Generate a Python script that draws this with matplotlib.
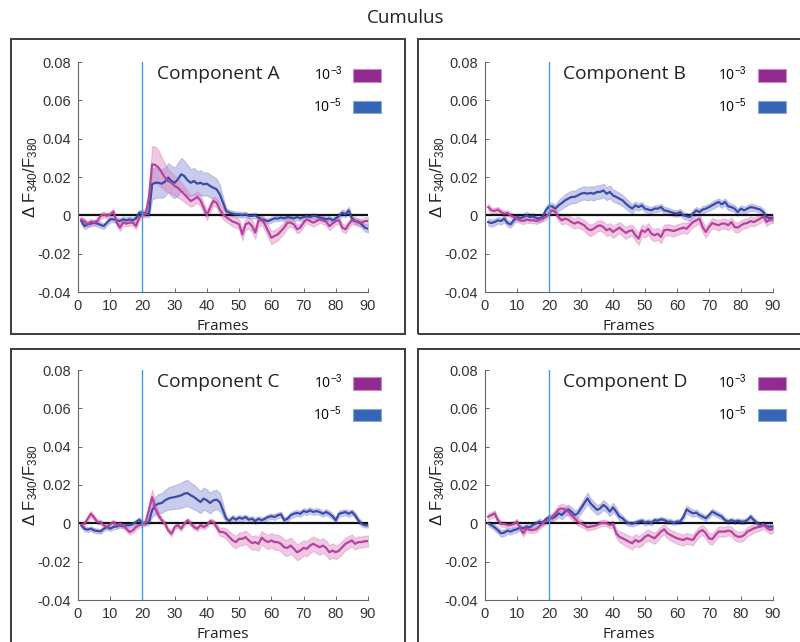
import numpy as np
import matplotlib
matplotlib.use("Agg")
import matplotlib.pyplot as plt
from matplotlib.patches import Patch, Rectangle

plt.rcParams["mathtext.fontset"] = "custom"
plt.rcParams["mathtext.rm"] = "Liberation Sans"
plt.rcParams["mathtext.it"] = "Liberation Sans:italic"
plt.rcParams["mathtext.bf"] = "Liberation Sans:bold"

# ---------------- data (values in units of 1e-3) ----------------
frames = np.arange(1, 91)

panel_names = ["Component A", "Component B", "Component C", "Component D"]
series_labels = ["10$^{-3}$", "10$^{-5}$"]
xticks = [0, 10, 20, 30, 40, 50, 60, 70, 80, 90]
yticks = [-0.04, -0.02, 0, 0.02, 0.04, 0.06, 0.08]
ytick_labels = ["-0.04", "-0.02", "0", "0.02", "0.04", "0.06", "0.08"]
stim_frame = 20

A_hi_mean = [-2.1,-3.0,-4.7,-3.3,-3.8,-3.0,-0.3,0.5,-0.3,0.5,
             1.9,-3.8,-6.4,-3.8,-4.3,-3.8,-3.8,-5.6,-1.2,0.2,
             0.5,9.2,26.6,26.3,24.9,22.3,19.7,17.9,17.0,15.3,
             14.4,12.7,11.0,9.2,7.5,8.4,9.6,7.8,4.0,0.0,
             4.0,7.5,6.6,3.1,0.5,-0.9,-2.1,-3.3,-3.8,-4.7,
             -9.9,-4.7,-3.8,-5.6,-9.0,-3.0,-2.1,-4.7,-8.2,-11.7,
             -10.8,-9.9,-8.2,-6.4,-3.8,-3.8,-4.7,-7.3,-6.4,-3.8,
             -2.1,-3.0,-3.8,-3.0,-2.1,-2.6,-3.3,-5.6,-4.3,-3.0,
             -2.6,-6.4,-7.3,-4.7,-2.6,-3.0,-3.8,-3.8,-3.0,-3.0]
A_lo_mean = [-3.0,-5.6,-4.7,-4.3,-3.8,-4.3,-5.0,-5.6,-3.8,-2.1,
             -2.1,-2.6,-3.0,-2.1,-2.6,-2.1,-2.6,-1.6,1.4,1.4,
             1.0,0.5,16.2,17.0,17.0,16.5,17.6,19.7,17.9,17.0,
             18.8,21.4,20.5,18.3,17.0,17.9,16.5,17.0,16.2,16.5,
             15.3,14.4,13.6,11.0,6.6,2.3,1.4,0.9,0.5,0.5,
             0.2,0.5,-0.3,-0.3,0.0,-1.2,-2.1,-2.6,-3.0,-2.3,
             -1.6,-1.7,-1.2,-1.6,-0.9,-1.2,-1.6,-0.9,-1.6,-0.9,
             -0.5,-0.9,-0.3,-0.5,-1.2,-1.6,-2.1,-1.6,-2.6,-1.6,
             -0.3,1.4,0.5,2.6,-1.6,-3.0,-3.3,-4.7,-6.4,-7.0]
A_hi_std = [1.4,1.5,1.6,1.5,1.4,1.5,1.6,1.5,1.5,1.4,
            1.6,1.7,1.8,1.6,1.5,1.5,1.6,1.7,1.5,1.4,
            1.5,4.0,9.5,9.5,9.0,8.0,7.0,6.0,5.5,5.0,
            5.0,4.5,4.0,3.5,3.0,3.0,3.0,3.0,2.5,2.5,
            2.5,2.4,2.4,2.5,2.6,2.5,2.4,2.5,2.6,2.7,
            3.0,2.9,3.0,3.1,3.2,3.0,2.9,3.0,3.2,3.4,
            3.3,3.1,3.0,2.9,2.8,2.0,2.1,2.2,2.1,2.0,
            1.9,2.0,2.1,2.0,1.9,2.0,2.1,2.2,2.0,1.9,
            2.0,2.1,2.0,1.9,2.0,2.1,2.0,1.9,2.0,2.0]
A_lo_std = [1.5,1.6,1.5,1.4,1.5,1.6,1.5,1.5,1.4,1.5,
            1.5,1.6,1.5,1.4,1.5,1.5,1.6,1.5,1.4,1.5,
            1.5,1.6,8.0,8.0,7.5,7.5,7.5,7.5,8.0,8.0,
            8.5,8.5,8.0,8.0,7.0,7.0,6.5,6.5,6.0,6.0,
            6.0,6.0,5.5,5.0,3.0,1.5,1.4,1.5,1.5,1.4,
            1.5,1.4,1.3,1.4,1.5,1.5,1.4,1.3,1.4,1.5,
            1.4,1.3,1.4,1.5,1.4,1.3,1.4,1.5,1.4,1.3,
            1.4,1.5,1.4,1.3,1.4,1.5,1.4,1.3,1.4,1.5,
            1.6,1.7,1.6,1.8,1.7,1.6,1.7,1.8,1.9,2.0]

B_hi_mean = [4.3,2.6,2.3,3.0,1.7,0.9,1.2,0.0,-0.9,-1.7,
             -2.6,-3.0,-2.3,-2.6,-2.6,-3.0,-2.3,-1.7,-0.9,0.9,
             2.6,1.7,-0.9,-2.6,-1.7,-2.3,-3.5,-4.3,-3.5,-4.3,
             -5.2,-7.0,-7.8,-7.0,-5.7,-5.2,-6.1,-7.8,-7.0,-8.7,
             -7.5,-6.4,-7.8,-9.2,-8.2,-7.8,-10.4,-12.2,-7.8,-8.7,
             -7.0,-9.6,-10.4,-9.6,-11.3,-7.8,-7.5,-7.8,-8.2,-7.5,
             -7.0,-6.4,-7.0,-5.2,-3.5,-2.6,-1.7,-6.1,-8.7,-6.1,
             -4.0,-4.7,-5.2,-4.3,-4.3,-5.2,-3.5,-6.1,-6.4,-5.2,
             -4.3,-4.0,-3.0,-3.5,-2.6,-1.7,-0.5,-3.5,-2.3,-2.0]
B_lo_mean = [-3.5,-4.0,-3.5,-2.6,-3.0,-1.7,-4.0,-4.7,-2.6,-0.9,
             -1.4,-0.9,0.0,-0.9,-0.5,-1.4,-1.7,-0.9,2.6,4.7,
             4.7,3.5,5.2,6.4,7.8,8.7,9.6,9.6,10.4,11.3,
             11.7,11.3,11.7,11.3,12.2,12.2,13.0,11.3,12.2,10.4,
             9.6,8.7,7.8,6.1,4.7,3.5,5.2,4.3,5.2,3.5,
             3.0,2.6,3.5,3.5,4.3,2.6,2.3,1.7,1.2,0.9,
             1.7,0.0,-0.5,-0.9,0.9,2.6,1.7,3.0,3.5,4.3,
             5.2,6.1,7.0,5.7,7.0,4.7,4.3,3.5,1.7,3.5,
             2.6,3.5,4.3,4.0,3.5,3.0,1.7,-0.9,-1.4,-1.4]
B_hi_std = [1.6,1.5,1.5,1.4,1.5,1.5,1.6,1.5,1.4,1.5,
            1.5,1.6,1.5,1.5,1.4,1.5,1.6,1.5,1.5,1.6,
            1.7,1.8,2.0,2.2,2.4,2.5,2.6,2.7,2.8,2.8,
            2.9,3.0,3.0,2.9,2.8,2.8,2.9,3.0,3.0,3.1,
            3.0,2.9,3.0,3.1,3.0,2.9,3.1,3.2,3.0,2.9,
            3.0,3.1,3.2,3.1,3.2,3.0,2.9,2.9,2.8,2.8,
            2.7,2.7,2.8,2.7,2.6,2.6,2.7,2.8,2.9,2.7,
            2.6,2.6,2.7,2.6,2.6,2.6,2.5,2.6,2.6,2.5,
            2.5,2.4,2.4,2.3,2.3,2.2,2.2,2.1,2.0,2.0]
B_lo_std = [1.8,1.9,1.8,1.7,1.8,1.9,1.8,1.7,1.8,1.8,
            1.7,1.8,1.9,1.8,1.7,1.8,1.8,1.9,1.8,1.8,
            1.8,1.9,2.8,3.0,3.2,3.2,3.3,3.3,3.4,3.4,
            3.4,3.5,3.5,3.6,3.6,3.5,3.5,3.4,3.3,3.2,
            3.1,3.0,2.9,2.8,2.6,2.4,2.0,1.9,1.8,1.8,
            1.8,1.7,1.8,1.8,1.7,1.8,1.8,1.7,1.7,1.8,
            1.8,1.7,1.8,1.8,1.9,1.8,1.8,1.9,1.8,1.8,
            1.9,2.0,1.9,1.8,1.9,2.0,1.9,1.8,1.9,1.8,
            1.8,1.9,1.8,1.8,1.7,1.8,1.7,1.6,1.6,1.6]

C_hi_mean = [-1.0,-0.2,2.4,5.0,3.0,0.7,0.7,-1.0,-1.9,-0.5,
             0.7,-1.0,-0.2,-1.0,-2.8,-4.5,-3.7,-1.9,-1.0,-0.5,
             0.7,6.8,13.7,7.7,4.2,1.6,-0.2,-3.7,-5.4,-1.9,
             -1.0,-2.8,-0.2,1.6,-0.2,-1.9,-2.8,-1.0,-1.9,-1.0,
             1.2,0.7,-1.9,-4.5,-4.5,-5.4,-7.2,-8.9,-9.8,-8.1,
             -8.1,-7.2,-8.9,-10.3,-9.8,-10.7,-7.5,-8.9,-9.8,-8.9,
             -9.8,-9.8,-10.7,-12.5,-12.8,-11.6,-13.3,-15.1,-14.2,-12.8,
             -13.3,-11.6,-10.7,-11.6,-12.5,-11.6,-12.8,-15.1,-14.2,-15.1,
             -14.2,-12.5,-10.7,-9.8,-8.9,-10.7,-9.8,-9.8,-9.3,-9.3]
C_lo_mean = [-1.0,-2.8,-3.3,-2.8,-3.7,-4.0,-4.2,-2.8,-1.9,-2.8,
             -1.9,-1.6,-1.0,-1.6,-1.0,-1.0,-0.5,0.7,1.9,0.2,
             -0.2,0.7,6.8,9.4,10.3,10.6,12.0,12.9,13.4,13.7,
             14.1,14.6,15.5,15.8,14.6,13.7,12.4,11.1,12.9,12.0,
             10.6,12.0,12.4,11.1,6.8,2.4,1.2,3.0,1.9,3.0,
             2.4,3.3,1.9,2.4,1.2,2.4,1.6,2.4,3.3,3.7,
             3.3,4.2,4.7,1.6,2.4,4.2,5.0,5.4,5.0,6.4,
             5.9,6.8,5.9,6.4,5.9,5.0,5.9,5.0,3.7,1.6,
             5.0,5.4,5.9,5.0,5.9,4.2,1.6,-0.2,-1.0,-1.0]
C_hi_std = [1.3,1.2,1.4,1.5,1.3,1.2,1.3,1.2,1.3,1.3,
            1.2,1.3,1.3,1.2,1.4,1.5,1.4,1.3,1.2,1.3,
            1.3,3.0,4.0,3.0,1.8,1.4,1.3,1.3,1.4,1.3,
            1.2,1.3,1.3,1.2,1.3,1.3,1.2,1.3,1.3,1.2,
            1.3,1.4,1.6,2.0,2.4,2.7,3.0,3.2,3.3,3.4,
            3.4,3.5,3.5,3.6,3.6,3.6,3.5,3.6,3.7,3.8,
            3.9,4.0,4.0,4.1,4.2,4.2,4.1,4.2,4.1,4.0,
            4.0,3.9,3.8,3.8,3.9,3.9,3.8,3.8,3.7,3.6,
            3.5,3.4,3.3,3.2,3.1,3.0,3.0,2.9,2.9,2.9]
C_lo_std = [1.2,1.3,1.2,1.2,1.3,1.2,1.2,1.1,1.2,1.2,
            1.3,1.2,1.2,1.1,1.2,1.2,1.3,1.2,1.2,1.2,
            1.2,1.3,3.5,4.5,5.0,5.2,5.5,5.8,6.0,6.2,
            6.4,6.6,6.8,6.8,6.6,6.4,6.0,5.8,5.8,5.6,
            5.4,5.2,5.0,4.8,3.5,1.6,1.4,1.4,1.5,1.4,
            1.4,1.3,1.4,1.4,1.5,1.4,1.4,1.3,1.4,1.4,
            1.5,1.5,1.4,1.4,1.5,1.5,1.6,1.6,1.5,1.6,
            1.6,1.6,1.5,1.6,1.6,1.5,1.6,1.6,1.5,1.5,
            1.6,1.6,1.5,1.6,1.5,1.5,1.4,1.3,1.2,1.2]

D_hi_mean = [3.5,4.3,5.2,1.7,-0.3,-0.3,-0.9,-0.9,-0.3,0.9,
             -2.6,-5.2,-2.6,-3.5,-3.5,-3.1,-1.7,0.0,0.9,1.7,
             3.5,5.2,7.3,7.8,7.3,6.1,4.3,2.6,0.9,0.0,
             -0.9,-2.1,-1.7,-1.4,-0.9,0.0,0.3,0.0,-0.9,-0.3,
             -5.2,-7.0,-7.8,-8.7,-9.6,-10.4,-8.7,-9.6,-8.7,-7.0,
             -6.1,-7.0,-7.8,-6.1,-4.3,-3.1,-5.2,-6.1,-7.0,-7.8,
             -8.3,-8.7,-7.8,-8.3,-8.7,-6.1,-4.3,-3.5,-5.2,-7.8,
             -8.3,-6.1,-4.3,-4.3,-4.3,-3.8,-4.3,-6.1,-7.0,-7.0,
             -6.1,-4.3,-3.5,-2.6,-2.1,-1.7,-0.9,-2.1,-3.5,-3.0]
D_lo_mean = [0.0,-0.9,-2.1,-3.5,-5.2,-4.9,-3.8,-4.3,-3.5,-3.1,
             -2.1,-2.6,-1.7,-2.1,-0.9,0.0,0.9,0.3,2.1,3.1,
             2.6,3.5,5.2,4.3,6.1,7.3,6.1,4.3,5.2,7.8,
             10.4,13.0,10.4,8.7,7.0,7.8,9.6,8.3,6.1,8.3,
             6.1,3.5,2.6,0.9,0.0,-0.3,0.3,0.9,1.4,0.3,
             0.9,0.3,1.7,1.4,2.1,1.7,0.9,0.9,0.3,0.9,
             0.9,3.5,7.3,6.1,5.2,5.6,4.3,3.5,2.6,4.3,
             6.1,5.2,4.3,3.5,1.7,0.9,1.7,0.9,1.4,0.9,
             0.9,1.7,3.5,1.7,0.3,-0.9,-0.3,-1.7,-1.7,-1.7]
D_hi_std = [1.5,1.6,1.7,1.6,1.5,1.4,1.4,1.5,1.5,1.5,
            1.6,1.7,1.6,1.5,1.5,1.4,1.4,1.4,1.5,1.6,
            1.8,2.0,2.2,2.4,2.4,2.3,2.2,2.1,2.0,1.9,
            1.8,1.8,1.7,1.7,1.6,1.6,1.6,1.6,1.7,1.9,
            2.4,2.8,3.0,3.1,3.2,3.2,3.1,3.0,3.0,2.9,
            2.9,2.9,2.8,2.8,2.7,2.7,2.8,2.8,2.9,2.9,
            2.9,2.9,2.9,2.8,2.8,2.7,2.7,2.6,2.7,2.8,
            2.8,2.7,2.6,2.6,2.6,2.5,2.5,2.6,2.6,2.6,
            2.5,2.4,2.4,2.3,2.2,2.1,2.0,2.0,2.0,2.0]
D_lo_std = [1.4,1.5,1.6,1.7,1.8,1.7,1.6,1.6,1.5,1.5,
            1.4,1.5,1.4,1.5,1.4,1.4,1.5,1.4,1.5,1.6,
            1.6,1.7,2.0,2.2,2.4,2.5,2.5,2.4,2.4,2.6,
            2.8,3.0,2.8,2.6,2.5,2.5,2.6,2.5,2.4,2.4,
            2.2,2.0,1.6,1.4,1.3,1.3,1.4,1.3,1.3,1.4,
            1.3,1.4,1.3,1.4,1.3,1.3,1.4,1.3,1.3,1.3,
            1.3,1.6,2.0,2.0,1.8,1.7,1.6,1.5,1.5,1.5,
            1.6,1.5,1.5,1.4,1.3,1.3,1.3,1.3,1.3,1.3,
            1.3,1.3,1.4,1.3,1.2,1.2,1.2,1.2,1.2,1.2]

hi_means = [A_hi_mean, B_hi_mean, C_hi_mean, D_hi_mean]
lo_means = [A_lo_mean, B_lo_mean, C_lo_mean, D_lo_mean]
hi_stds = [A_hi_std, B_hi_std, C_hi_std, D_hi_std]
lo_stds = [A_lo_std, B_lo_std, C_lo_std, D_lo_std]
scale = 1e-3

# ---------------- style ----------------
hi_line = "#b8439c"
hi_fill = "#d878bd"
lo_line = "#3a4ca8"
lo_fill = "#8a8ed6"
hi_patch = "#922b90"
lo_patch = "#3565b4"
stim_col = "#3d9fdc"
text_font = ["Open Sans", "DejaVu Sans"]
tick_font = ["Liberation Sans", "DejaVu Sans"]

fig = plt.figure(figsize=(8.0, 6.42), dpi=100)

W, H = 800.0, 642.0
# axes placement in pixels (left, right, top, bottom)
ax_px = [(78, 368, 62, 292), (485, 773, 62, 292),
         (78, 368, 370, 600), (485, 773, 370, 600)]
# panel frames in pixels (left, right, top, bottom)
box_px = [(11, 405, 39, 334), (418, 830, 39, 334),
          (11, 405, 349, 680), (418, 830, 349, 680)]

for (l, r, t, b) in box_px:
    fig.patches.append(Rectangle((l / W, 1 - b / H), (r - l) / W, (b - t) / H,
                                 transform=fig.transFigure, fill=False,
                                 edgecolor="#3c3c3c", linewidth=1.4))

fig.text(406 / W, 1 - 18 / H, "Cumulus", ha="center", va="center",
         fontsize=13.5, family=text_font, color="#222222")

for i, (l, r, t, b) in enumerate(ax_px):
    ax = fig.add_axes([l / W, 1 - b / H, (r - l) / W, (b - t) / H])
    hm = np.array(hi_means[i]) * scale
    lm = np.array(lo_means[i]) * scale
    hs = np.array(hi_stds[i]) * scale
    ls = np.array(lo_stds[i]) * scale

    ax.fill_between(frames, lm - ls, lm + ls, color=lo_fill, alpha=0.45,
                    linewidth=0.8, zorder=1)
    ax.fill_between(frames, hm - hs, hm + hs, color=hi_fill, alpha=0.40,
                    linewidth=0.8, zorder=1)
    ax.axhline(0, color="#111111", linewidth=1.6, zorder=2)
    ax.plot(frames, lm, color=lo_line, linewidth=1.6, zorder=3)
    ax.plot(frames, hm, color=hi_line, linewidth=1.6, zorder=4)
    ax.axvline(stim_frame, color=stim_col, linewidth=1.0, zorder=5)

    ax.set_xlim(0, 90)
    ax.set_ylim(-0.04, 0.08)
    ax.set_xticks(xticks)
    ax.set_yticks(yticks)
    ax.set_yticklabels(ytick_labels)
    for s in ["top", "right"]:
        ax.spines[s].set_visible(False)
    for s in ["left", "bottom"]:
        ax.spines[s].set_color("#666666")
        ax.spines[s].set_linewidth(0.8)
    ax.tick_params(direction="in", length=3, width=0.7, color="#666666",
                   labelsize=10.5, labelcolor="#333333", pad=5)
    for lab in ax.get_xticklabels() + ax.get_yticklabels():
        lab.set_family(tick_font)

    ax.set_xlabel("Frames", fontsize=11, family=text_font, color="#222222",
                  labelpad=2)
    ax.xaxis.set_label_coords(0.5, -0.148)
    ax.set_ylabel("Δ F$_{340}$/F$_{380}$", fontsize=12, family=tick_font,
                  color="#222222")
    ax.yaxis.set_label_coords(-0.165, 0.5)
    ax.yaxis.label.set_verticalalignment("center")
    ax.xaxis.label.set_verticalalignment("center")

    ax.text(0.272, 0.948, panel_names[i], transform=ax.transAxes,
            ha="left", va="center", fontsize=13.8, family=text_font,
            color="#222222")

    handles = [Patch(facecolor=hi_patch, edgecolor="#c98cc6", linewidth=0.8),
               Patch(facecolor=lo_patch, edgecolor="#8aa8dc", linewidth=0.8)]
    leg = ax.legend(handles, series_labels, loc="upper right",
                    bbox_to_anchor=(1.045, 0.985), frameon=False,
                    markerfirst=False, handlelength=2.0, handleheight=1.0,
                    handletextpad=0.8, labelspacing=0.95, borderaxespad=0,
                    borderpad=0,
                    prop={"family": text_font, "size": 10})

fig.savefig("out.png", dpi=100)
